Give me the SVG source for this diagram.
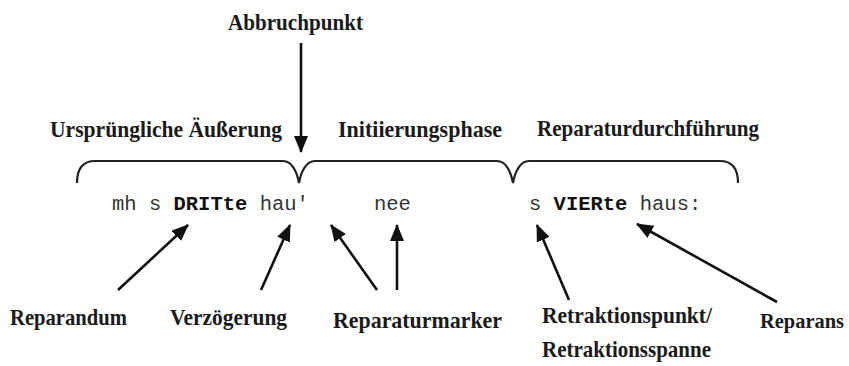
<svg xmlns="http://www.w3.org/2000/svg" width="849" height="366" viewBox="0 0 849 366">
<style>
.lbl{font-family:"Liberation Serif","DejaVu Serif",serif;font-size:23px;font-weight:bold;fill:#1a1a1a}
.utt{font-family:"Liberation Mono","DejaVu Sans Mono",monospace;font-size:20.5px;fill:#333}
.b{font-weight:bold;fill:#111}
.arr{stroke:#111;stroke-width:2.6;fill:none;marker-end:url(#ah)}
.brace{stroke:#222;stroke-width:2.2;fill:none}
</style>
<defs>
<marker id="ah" markerUnits="userSpaceOnUse" markerWidth="18" markerHeight="14" refX="16" refY="7" orient="auto">
<path d="M0,0 L17,7 L0,14 z" fill="#111"/>
</marker>
</defs>
<rect width="849" height="366" fill="#fff"/>
<g id="brace">
<path class="brace" d="M77,183 C77,170 82,161 95,161 L283,161 C292,161 297,172 299,183 C301,172 306,161 315,161 L497,161 C506,161 511,172 513,183 C515,172 520,161 529,161 L720,161 C733,161 738,170 738,183"/>
</g>
<g id="n-abbruch"><text class="lbl" x="228" y="30" textLength="135" lengthAdjust="spacingAndGlyphs">Abbruchpunkt</text></g>
<g id="n-urspr"><text class="lbl" x="50" y="137" textLength="232" lengthAdjust="spacingAndGlyphs">Ursprüngliche Äußerung</text></g>
<g id="n-init"><text class="lbl" x="338" y="137" textLength="164" lengthAdjust="spacingAndGlyphs">Initiierungsphase</text></g>
<g id="n-repdurch"><text class="lbl" x="537" y="136" textLength="222" lengthAdjust="spacingAndGlyphs">Reparaturdurchführung</text></g>
<g id="n-utt1"><text class="utt" x="112" y="210">mh s <tspan class="b">DRITte</tspan> hau'</text></g>
<g id="n-utt2"><text class="utt" x="374" y="210">nee</text></g>
<g id="n-utt3"><text class="utt" x="529" y="210">s <tspan class="b">VIERte</tspan> haus:</text></g>
<g id="n-reparandum"><text class="lbl" x="10" y="325" textLength="117" lengthAdjust="spacingAndGlyphs">Reparandum</text></g>
<g id="n-verz"><text class="lbl" x="170" y="325" textLength="117" lengthAdjust="spacingAndGlyphs">Verzögerung</text></g>
<g id="n-marker"><text class="lbl" x="333" y="328" textLength="169" lengthAdjust="spacingAndGlyphs">Reparaturmarker</text></g>
<g id="n-retrakt"><text class="lbl" x="542" y="323" textLength="170" lengthAdjust="spacingAndGlyphs">Retraktionspunkt/</text><text class="lbl" x="542" y="357" textLength="169" lengthAdjust="spacingAndGlyphs">Retraktionsspanne</text></g>
<g id="n-reparans"><text class="lbl" x="760" y="328" style="font-size:21.5px" textLength="84" lengthAdjust="spacingAndGlyphs">Reparans</text></g>
<g id="connectors">
<line class="arr" x1="301" y1="43" x2="301" y2="152"/>
<line class="arr" x1="118" y1="290" x2="188" y2="225"/>
<line class="arr" x1="261" y1="290" x2="290" y2="225"/>
<line class="arr" x1="377" y1="290" x2="331" y2="225"/>
<line class="arr" x1="397" y1="290" x2="397" y2="225"/>
<line class="arr" x1="569" y1="300" x2="537" y2="225"/>
<line class="arr" x1="777" y1="302" x2="637" y2="224"/>
</g>
</svg>
